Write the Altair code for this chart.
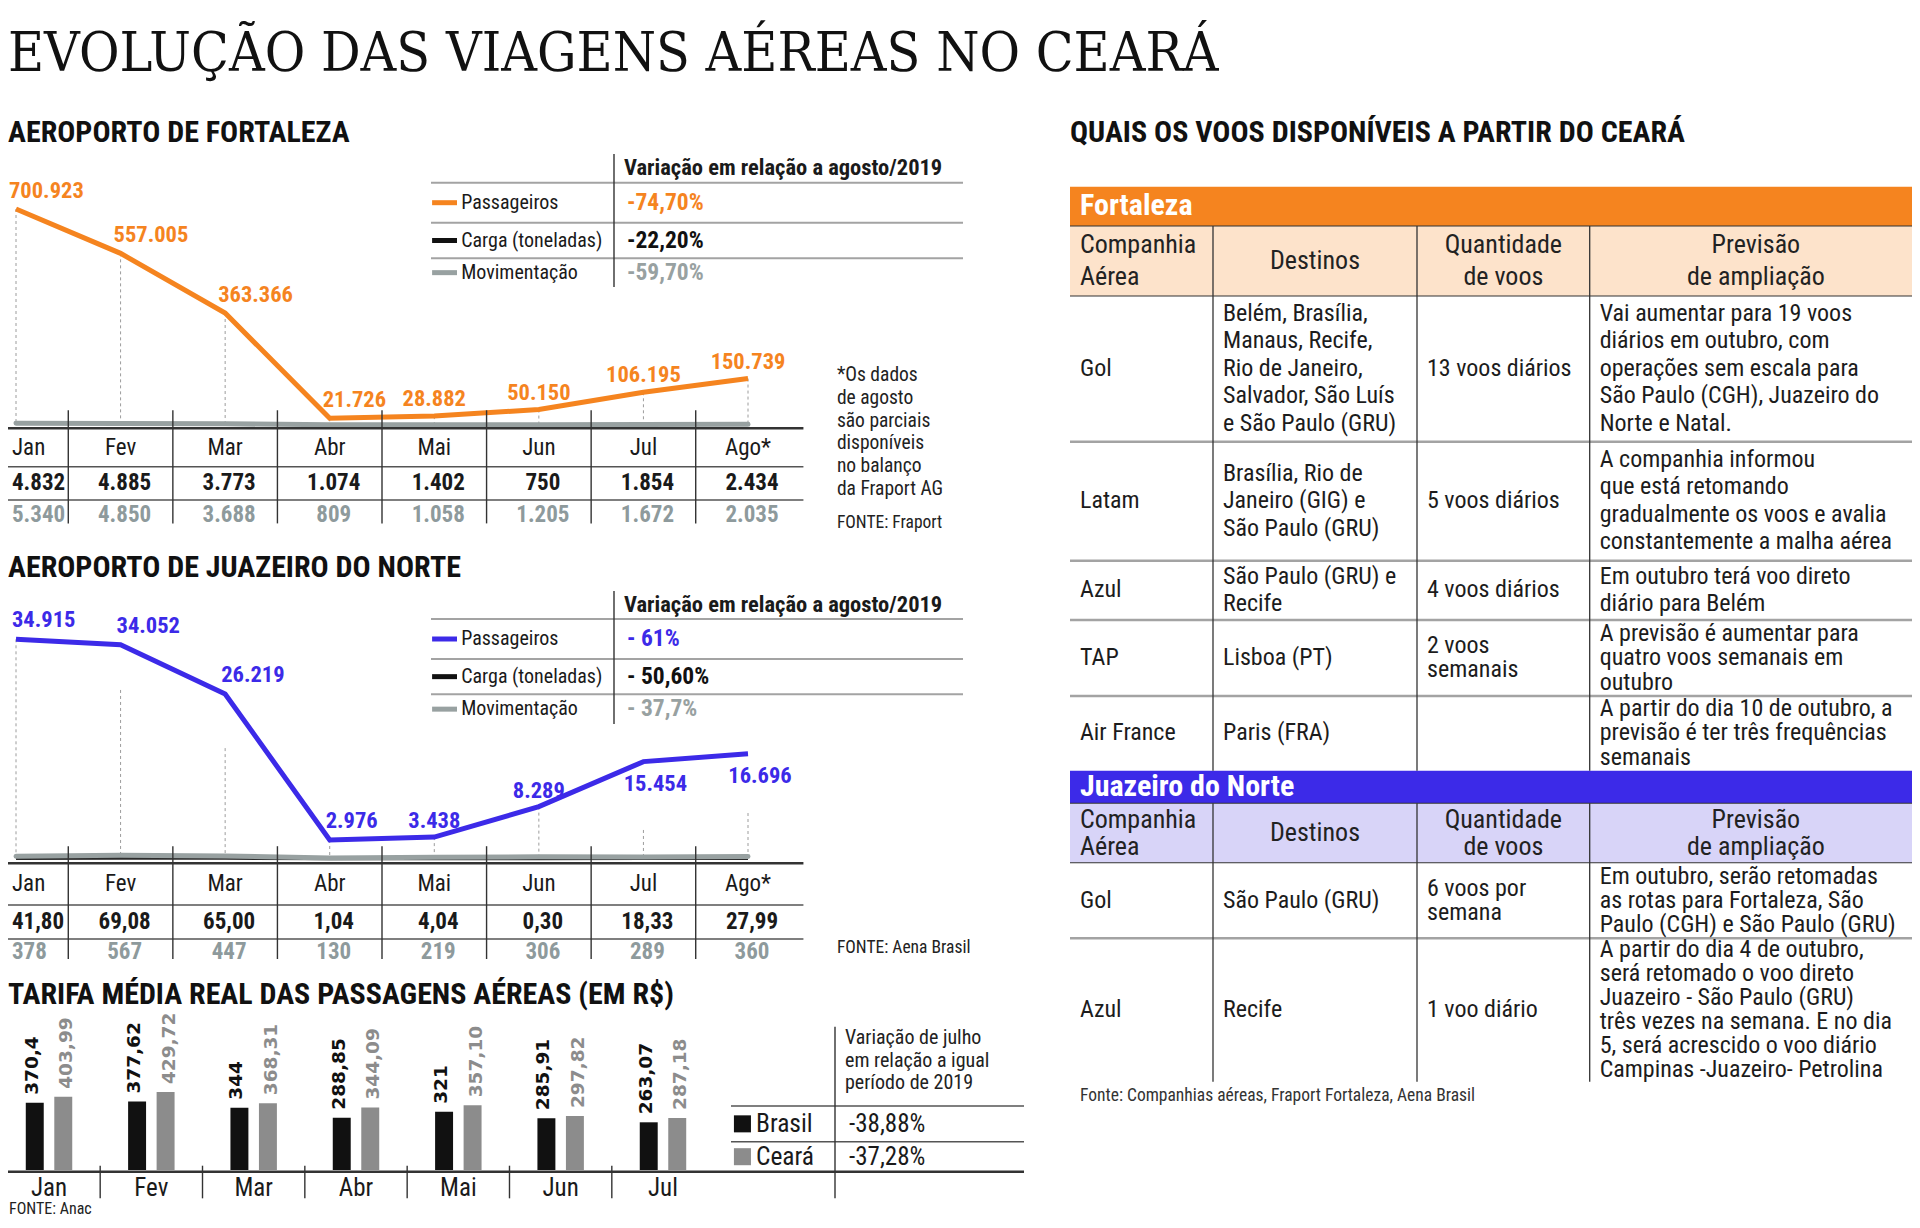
import altair as alt
import pandas as pd

# ------------------------------------------------------------------ data
months = ["Jan", "Fev", "Mar", "Abr", "Mai", "Jun", "Jul", "Ago*"]
series_names = ["Passageiros", "Carga (toneladas)", "Movimentação"]

fortaleza_passageiros = [700923, 557005, 363366, 21726, 28882, 50150, 106195, 150739]
fortaleza_carga = [4832, 4885, 3773, 1074, 1402, 750, 1854, 2434]
fortaleza_movimentacao = [5340, 4850, 3688, 809, 1058, 1205, 1672, 2035]
fortaleza_variacao = ["-74,70%", "-22,20%", "-59,70%"]

juazeiro_passageiros = [34915, 34052, 26219, 2976, 3438, 8289, 15454, 16696]
juazeiro_carga = [41.80, 69.08, 65.00, 1.04, 4.04, 0.30, 18.33, 27.99]
juazeiro_movimentacao = [378, 567, 447, 130, 219, 306, 289, 360]
juazeiro_variacao = ["- 61%", "- 50,60%", "- 37,7%"]

tarifa_meses = ["Jan", "Fev", "Mar", "Abr", "Mai", "Jun", "Jul"]
tarifa_series = ["Brasil", "Ceará"]
tarifa_brasil = [370.4, 377.62, 344, 288.85, 321, 285.91, 263.07]
tarifa_ceara = [403.99, 429.72, 368.31, 344.09, 357.10, 297.82, 287.18]
tarifa_variacao = ["-38,88%", "-37,28%"]
tarifa_legenda_titulo = "Variação de julho|em relação a igual|período de 2019"

titulo = "EVOLUÇÃO DAS VIAGENS AÉREAS NO CEARÁ"
cabecalhos = ["AEROPORTO DE FORTALEZA", "QUAIS OS VOOS DISPONÍVEIS A PARTIR DO CEARÁ",
              "AEROPORTO DE JUAZEIRO DO NORTE", "TARIFA MÉDIA REAL DAS PASSAGENS AÉREAS (EM R$)"]
legenda_titulo = "Variação em relação a agosto/2019"
nota_fortaleza = "*Os dados|de agosto|são parciais|disponíveis|no balanço|da Fraport AG"
fonte_fortaleza = "FONTE: Fraport"
fonte_juazeiro = "FONTE: Aena Brasil"
fonte_tarifa = "FONTE: Anac"
fonte_tabela = "Fonte: Companhias aéreas, Fraport Fortaleza, Aena Brasil"

tabela_colunas = ["Companhia|Aérea", "Destinos", "Quantidade|de voos", "Previsão|de ampliação"]
for_companhia = ["Gol", "Latam", "Azul", "TAP", "Air France"]
for_destinos = ["Belém, Brasília,|Manaus, Recife,|Rio de Janeiro,|Salvador, São Luís|e São Paulo (GRU)",
                "Brasília, Rio de|Janeiro (GIG) e|São Paulo (GRU)",
                "São Paulo (GRU) e|Recife",
                "Lisboa (PT)",
                "Paris (FRA)"]
for_quantidade = ["13 voos diários", "5 voos diários", "4 voos diários", "2 voos|semanais", ""]
for_previsao = ["Vai aumentar para 19 voos|diários em outubro, com|operações sem escala para|São Paulo (CGH), Juazeiro do|Norte e Natal.",
                "A companhia informou|que está retomando|gradualmente os voos e avalia|constantemente a malha aérea",
                "Em outubro terá voo direto|diário para Belém",
                "A previsão é aumentar para|quatro voos semanais em|outubro",
                "A partir do dia 10 de outubro, a|previsão é ter três frequências|semanais"]
jua_companhia = ["Gol", "Azul"]
jua_destinos = ["São Paulo (GRU)", "Recife"]
jua_quantidade = ["6 voos por|semana", "1 voo diário"]
jua_previsao = ["Em outubro, serão retomadas|as rotas para Fortaleza, São|Paulo (CGH) e São Paulo (GRU)",
                "A partir do dia 4 de outubro,|será retomado o voo direto|Juazeiro - São Paulo (GRU)|três vezes na semana. E no dia|5, será acrescido o voo diário|Campinas -Juazeiro- Petrolina"]
secoes = ["Fortaleza", "Juazeiro do Norte"]

# ------------------------------------------------------------------ layout / style
W, H = 1904, 1212
OX, OY = 6, 8


def px(v):
    return v - OX


def py(v):
    return v - OY


def inv(edges, v):
    """Domain position (piecewise-linear, index domain) of a pixel position."""
    k = 0
    while k < len(edges) - 2 and v > edges[k + 1]:
        k += 1
    return k + (v - edges[k]) / (edges[k + 1] - edges[k])


def nlines(t):
    return t.count("|") + 1


FONT = "Liberation Sans Narrow, Roboto Condensed, DejaVu Sans Condensed, Arial Narrow, sans-serif"
SERIF = "DejaVu Serif Condensed, Liberation Serif, serif"
WIDE = "DejaVu Sans, sans-serif"

DARK = "#1a1a1a"
ORANGE = "#F5841F"
BLUE = "#3C2AE8"
PEACH = "#FDE3CB"
LAVENDER = "#D8D4F8"
GREY_TXT = "#8E9A9C"
GREY_LINE = "#98A1A1"
RULE_DARK = "#333333"
RULE_GREY = "#A3A3A3"


def sc(domain, rng, **kw):
    return alt.Scale(domain=domain, range=rng, nice=False, zero=False, **kw)


def qx(f, s):
    return alt.X(f"{f}:Q", scale=s, axis=None)


def qy(f, s):
    return alt.Y(f"{f}:Q", scale=s, axis=None)


def text_layer(df, xf, yf, xs, ys, tf, size, color=DARK, weight="normal", align="left",
               baseline="middle", dx=0, dy=0, font=FONT, lh=None, fmt=None, filt=None):
    props = dict(align=align, baseline=baseline, dx=dx, dy=dy, font=font,
                 fontSize=size, fontWeight=weight, color=color)
    if lh is not None:
        props["lineHeight"] = lh
        props["lineBreak"] = "|"
    ch = alt.Chart(df)
    if filt is not None:
        ch = ch.transform_filter(filt)
    text = alt.Text(f"{tf}:Q", format=fmt) if fmt else alt.Text(f"{tf}:N")
    return ch.mark_text(**props).encode(x=qx(xf, xs), y=qy(yf, ys), text=text)


def rule_layer(df, xs, ys, color, width, dash=None):
    props = dict(color=color, strokeWidth=width, strokeCap="butt")
    if dash:
        props["strokeDash"] = dash
    return alt.Chart(df).mark_rule(**props).encode(
        x=qx("x", xs), x2=alt.X2("x2:Q"), y=qy("y", ys), y2=alt.Y2("y2:Q"))


def hlines(x0, x1, ys_list):
    return pd.DataFrame({"x": [x0] * len(ys_list), "x2": [x1] * len(ys_list),
                         "y": ys_list, "y2": ys_list})


def vlines(xs_list, y0, y1):
    return pd.DataFrame({"x": xs_list, "x2": xs_list,
                         "y": [y0] * len(xs_list), "y2": [y1] * len(xs_list)})


layers = []

# ------------------------------------------------------------------ titles
HX = sc([0, 1], [px(6), px(1068)])
HY = sc([0, 1, 2, 3], [py(71), py(132.7), py(568.3), py(995)])
tdf = pd.DataFrame({"t": [titulo], "c": [0], "r": [0]})
layers.append(text_layer(tdf, "c", "r", HX, HY, "t", 55, font=SERIF, baseline="alphabetic", color="#111"))
hdf = pd.DataFrame({"t": cabecalhos, "c": [0, 1, 0, 0], "r": [1, 1, 2, 3]})
layers.append(text_layer(hdf, "c", "r", HX, HY, "t", 30, weight="bold", color="#111"))

# ------------------------------------------------------------------ line sections
XS = sc([0, len(months) - 1], [px(14), px(746)])


def legend_block(edges, colors, values):
    XL = sc([0, 1, 2], [px(429), px(612), px(961)])
    YL = sc([0, 1, 2, 3, 4], [py(v) for v in edges])
    out = [rule_layer(hlines(0, 2, [1, 2, 3]), XL, YL, RULE_GREY, 2),
           rule_layer(vlines([1], 0, 4), XL, YL, RULE_DARK, 1.4)]
    hd = pd.DataFrame({"t": [legenda_titulo], "x": [1], "y": [0.5]})
    out.append(text_layer(hd, "x", "y", XL, YL, "t", 22.5, weight="bold", dx=10))
    rows = pd.DataFrame({"s": series_names, "v": values})
    rows["r"] = [k + 1.5 for k in range(len(series_names))]
    rows["sx"] = 0.006
    rows["sx2"] = 0.142
    rows["tx"] = 0.165
    rows["vx"] = 1
    cs = alt.Scale(domain=series_names, range=colors)
    out.append(alt.Chart(rows).mark_rule(strokeWidth=5, strokeCap="butt").encode(
        x=qx("sx", XL), x2=alt.X2("sx2:Q"), y=qy("r", YL),
        color=alt.Color("s:N", scale=cs, legend=None)))
    out.append(text_layer(rows, "tx", "r", XL, YL, "s", 20))
    out.append(alt.Chart(rows).mark_text(align="left", baseline="middle", dx=13, font=FONT,
                                         fontSize=23.5, fontWeight="bold").encode(
        x=qx("vx", XL), y=qy("r", YL), text=alt.Text("v:N"),
        color=alt.Color("s:N", scale=cs, legend=None)))
    return out


def line_section(pas, carga, mov, var_txt, color, y_px, y_max, lbl_left, lbl_up, lbl_down,
                 left_dx, left_dy, up_dy, drop_top, tab_edges, sep_span, leg_edges,
                 carga_fmt, mov_fmt, notes):
    out = []
    df = pd.DataFrame({"i": list(range(len(months))), "m": months,
                       "pas": pas, "carga": carga, "mov": mov})
    df["top"] = [drop_top.get(m, v) for m, v in zip(months, pas)]
    df["zero"] = 0
    YS = sc([0, y_max], [py(y_px[0]), py(y_px[1])])
    out.append(alt.Chart(df).mark_rule(color="#9c9c9c", strokeWidth=1, strokeDash=[3, 3]).encode(
        x=qx("i", XS), y=qy("top", YS), y2=alt.Y2("zero:Q")))
    out.append(alt.Chart(df).mark_line(color="#2a2a2a", strokeWidth=3).encode(
        x=qx("i", XS), y=qy("carga", YS)))
    out.append(alt.Chart(df).mark_line(color=GREY_LINE, strokeWidth=5, strokeCap="round").encode(
        x=qx("i", XS), y=qy("mov", YS)))
    out.append(alt.Chart(df).mark_line(color=color, strokeWidth=5).encode(
        x=qx("i", XS), y=qy("pas", YS)))
    out.append(text_layer(df, "i", "pas", XS, YS, "pas", 22.5, color=color, weight="bold",
                          align="left", dx=left_dx, dy=left_dy, fmt=",d",
                          filt=alt.FieldOneOfPredicate(field="m", oneOf=lbl_left)))
    out.append(text_layer(df, "i", "pas", XS, YS, "pas", 22.5, color=color, weight="bold",
                          align="center", dy=up_dy, fmt=",d",
                          filt=alt.FieldOneOfPredicate(field="m", oneOf=lbl_up)))
    if lbl_down:
        out.append(text_layer(df, "i", "pas", XS, YS, "pas", 22.5, color=color, weight="bold",
                              align="center", dx=12, dy=22, fmt=",d",
                              filt=alt.FieldOneOfPredicate(field="m", oneOf=lbl_down)))
    # table under the chart
    TY = sc([0, 1, 2, 3], [py(v) for v in tab_edges])
    last = len(months) - 1
    out.append(rule_layer(hlines(-0.3, last + 0.53, [0]), XS, TY, RULE_DARK, 2.6))
    out.append(rule_layer(hlines(-0.3, last + 0.53, [1, 2]), XS, TY, "#555555", 1.6))
    out.append(rule_layer(vlines([i + 0.5 for i in range(last)], sep_span[0], sep_span[1]),
                          XS, TY, RULE_DARK, 1.4))
    df["r_m"] = 0.5
    df["r_c"] = 1.5
    df["r_v"] = 2.5
    first = "datum.i == 0"
    rest = "datum.i > 0"
    out.append(text_layer(df, "i", "r_m", XS, TY, "m", 23, align="left", dx=-4, filt=first))
    out.append(text_layer(df, "i", "r_m", XS, TY, "m", 23, align="center", filt=rest))
    out.append(text_layer(df, "i", "r_c", XS, TY, "carga", 23, weight="bold", align="left",
                          dx=-4, fmt=carga_fmt, filt=first))
    out.append(text_layer(df, "i", "r_c", XS, TY, "carga", 23, weight="bold", align="center",
                          dx=4, fmt=carga_fmt, filt=rest))
    out.append(text_layer(df, "i", "r_v", XS, TY, "mov", 23, weight="bold", align="left",
                          dx=-4, fmt=mov_fmt, color=GREY_TXT, filt=first))
    out.append(text_layer(df, "i", "r_v", XS, TY, "mov", 23, weight="bold", align="center",
                          dx=4, fmt=mov_fmt, color=GREY_TXT, filt=rest))
    for txt, nx, first_line_px, lh, size in notes:
        nd = pd.DataFrame({"t": [txt], "x": [nx], "y": [inv(tab_edges, first_line_px)]})
        out.append(text_layer(nd, "x", "y", XS, TY, "t", size, lh=lh, color="#222"))
    out += legend_block(leg_edges, [color, "#111111", GREY_LINE], var_txt)
    return out


layers += line_section(
    fortaleza_passageiros, fortaleza_carga, fortaleza_movimentacao, fortaleza_variacao, ORANGE,
    (425, 209), 700923, ["Jan", "Fev", "Mar", "Abr"], ["Mai", "Jun", "Jul", "Ago*"], [],
    -7, -18, -17, {}, [428.3, 466.7, 500, 530], (-0.47, 2.78),
    [154, 182.7, 222.7, 258.3, 287], ",d", ",d",
    [(nota_fortaleza, 7.85, 375, 22.8, 19.5), (fonte_fortaleza, 7.85, 523.3, None, 17.5)])

layers += line_section(
    juazeiro_passageiros, juazeiro_carga, juazeiro_movimentacao, juazeiro_variacao, BLUE,
    (858.7, 639.3), 34915, ["Jan", "Fev", "Mar", "Abr"], ["Mai", "Jun"], ["Jul", "Ago*"],
    -4, -19, -16, {"Fev": 26850, "Mar": 17600, "Jul": 4570, "Ago*": 7270},
    [863.3, 905, 939, 964], (-0.41, 2.8),
    [591, 619, 659, 694.3, 724], ".2f", "d",
    [(fonte_juazeiro, 7.85, 948.3, None, 17.5)])

# ------------------------------------------------------------------ tarifa bars
XB = alt.Scale(type="band", domain=tarifa_meses, range=[px(-4.15), px(712.15)],
               paddingInner=0, paddingOuter=0)
XQ = sc([-0.5, len(tarifa_meses) - 0.5], [px(-4.15), px(712.15)])
XO = alt.Scale(domain=tarifa_series, paddingInner=0.37, paddingOuter=0.98)
YB = sc([0, 500], [py(1170), py(1079.35)])
YT_EDGES = [1015, 1106, 1141.7, 1171.7, 1205]
YT = sc(list(range(len(YT_EDGES))), [py(v) for v in YT_EDGES])
XF = sc([0, 1, 2, 3], [px(0), px(729), px(833), px(1022)])
bar_colors = alt.Scale(domain=tarifa_series, range=["#111111", "#8C8C8C"])

tb = pd.DataFrame({"m": tarifa_meses * 2,
                   "s": [tarifa_series[0]] * len(tarifa_meses) + [tarifa_series[1]] * len(tarifa_meses),
                   "v": tarifa_brasil + tarifa_ceara})
xenc = alt.X("m:N", scale=XB, axis=None)
xoff = alt.XOffset("s:N", scale=XO)
layers.append(alt.Chart(tb).mark_bar().encode(
    x=xenc, xOffset=xoff, y=qy("v", YB), color=alt.Color("s:N", scale=bar_colors, legend=None)))
for serie, fmt, col in [("Brasil", ",.2~f", "#111111"), ("Ceará", ",.2f", "#8C8C8C")]:
    layers.append(alt.Chart(tb).transform_filter(alt.datum.s == serie).mark_text(
        angle=270, align="left", baseline="middle", dx=8, font=WIDE, fontSize=18.5,
        fontWeight="bold", color=col).encode(
        x=xenc, xOffset=xoff, y=qy("v", YB), text=alt.Text("v:Q", format=fmt)))

layers.append(rule_layer(hlines(0, 3, [3]), XF, YT, RULE_DARK, 2.4))
layers.append(rule_layer(hlines(1, 3, [1, 2]), XF, YT, "#555555", 1.6))
layers.append(rule_layer(vlines([2], 0.13, 3.8), XF, YT, RULE_DARK, 1.4))
layers.append(rule_layer(vlines([i + 0.5 for i in range(len(tarifa_meses) - 1)], 2.8, 3.8),
                         XQ, YT, RULE_DARK, 1.4))
tm = pd.DataFrame({"m": tarifa_meses, "r": 3.5})
layers.append(alt.Chart(tm).mark_text(align="center", baseline="middle", font=FONT, fontSize=25,
                                      color=DARK).encode(x=alt.X("m:N", scale=XB, axis=None),
                                                         y=qy("r", YT), text="m:N"))
tl = pd.DataFrame({"s": tarifa_series, "v": tarifa_variacao})
tl["r"] = [k + 1.5 for k in range(len(tarifa_series))]
tl["sx"] = 1.11
tl["tx"] = 1.24
tl["vx"] = 2
layers.append(alt.Chart(tl).mark_square(size=290, opacity=1).encode(
    x=qx("sx", XF), y=qy("r", YT), color=alt.Color("s:N", scale=bar_colors, legend=None)))
layers.append(text_layer(tl, "tx", "r", XF, YT, "s", 25.5))
layers.append(text_layer(tl, "vx", "r", XF, YT, "v", 25, dx=14))
tlh = pd.DataFrame({"t": [tarifa_legenda_titulo], "x": [2], "y": [inv(YT_EDGES, 1038.3)]})
layers.append(text_layer(tlh, "x", "y", XF, YT, "t", 20, lh=22.5, dx=10, color="#222"))
tfa = pd.DataFrame({"t": [fonte_tarifa], "x": [0], "y": [inv(YT_EDGES, 1209)]})
layers.append(text_layer(tfa, "x", "y", XF, YT, "t", 16, dx=7, color="#222"))

# ------------------------------------------------------------------ flights table
XT = sc([0, 1, 2, 3, 4], [px(1068), px(1211), px(1415), px(1587.7), px(1920)])
row_edges = [186.7, 226, 296, 441.7, 560.7, 620, 696, 770.7, 803.3, 862.7, 938.3, 1081.7]
YTB = sc(list(range(len(row_edges))), [py(v) for v in row_edges])
FOR_BAR, JUA_BAR = 0, 7


def cell_y(r, t, lh):
    """Index-domain anchor so that a multi-line block is centred in row r."""
    rowh = row_edges[r + 1] - row_edges[r]
    return r + 0.5 - (nlines(t) - 1) * lh / 2 / rowh


fills = pd.DataFrame({"k": ["orange", "peach", "blue", "lavender"],
                      "x": 0, "x2": 4,
                      "y": [FOR_BAR, FOR_BAR + 1, JUA_BAR, JUA_BAR + 1]})
fills["y2"] = fills["y"] + 1
layers.append(alt.Chart(fills).mark_rect().encode(
    x=qx("x", XT), x2=alt.X2("x2:Q"), y=qy("y", YTB), y2=alt.Y2("y2:Q"),
    color=alt.Color("k:N", scale=alt.Scale(domain=["orange", "peach", "blue", "lavender"],
                                           range=[ORANGE, PEACH, BLUE, LAVENDER]), legend=None)))

for_body = FOR_BAR + 2
jua_body = JUA_BAR + 2
grey_rows = [for_body + k for k in range(1, len(for_companhia))] + \
            [jua_body + k for k in range(1, len(jua_companhia))]
layers.append(rule_layer(hlines(0, 4, grey_rows), XT, YTB, RULE_GREY, 2.4))
layers.append(rule_layer(hlines(0, 4, [FOR_BAR + 1, FOR_BAR + 2, JUA_BAR + 1, JUA_BAR + 2]),
                         XT, YTB, RULE_DARK, 1.1))
layers.append(rule_layer(vlines([1, 2, 3], FOR_BAR + 1, JUA_BAR), XT, YTB, RULE_DARK, 1.3))
layers.append(rule_layer(vlines([1, 2, 3], JUA_BAR + 1, jua_body + len(jua_companhia)),
                         XT, YTB, RULE_DARK, 1.3))

sec = pd.DataFrame({"t": secoes, "x": 0, "y": [FOR_BAR + 0.5, JUA_BAR + 0.5]})
layers.append(text_layer(sec, "x", "y", XT, YTB, "t", 30, color="white", weight="bold", dx=10))

HEAD_LH = {"F": 31.6, "J": 27}
hd_rows = []
for s_, r in [("F", FOR_BAR + 1), ("J", JUA_BAR + 1)]:
    for c, t in enumerate(tabela_colunas):
        hd_rows.append({"t": t, "c": c, "xc": c + 0.5, "sec": s_, "y": cell_y(r, t, HEAD_LH[s_])})
hd = pd.DataFrame(hd_rows)
for s_, lh in HEAD_LH.items():
    layers.append(text_layer(hd, "c", "y", XT, YTB, "t", 26, lh=lh, dx=10, color="#222",
                             filt=f"datum.sec == '{s_}' && datum.c == 0"))
    layers.append(text_layer(hd, "xc", "y", XT, YTB, "t", 26, lh=lh, align="center", color="#222",
                             filt=f"datum.sec == '{s_}' && datum.c > 0"))

BODY_LH = {"F1": 27.5, "F2": 24.5, "J": 24}
cells = []
for k, row in enumerate(zip(for_companhia, for_destinos, for_quantidade, for_previsao)):
    g = "F1" if k < 3 else "F2"
    for c, t in enumerate(row):
        cells.append({"t": t, "c": c, "g": g, "y": cell_y(for_body + k, t, BODY_LH[g])})
for k, row in enumerate(zip(jua_companhia, jua_destinos, jua_quantidade, jua_previsao)):
    for c, t in enumerate(row):
        cells.append({"t": t, "c": c, "g": "J", "y": cell_y(jua_body + k, t, BODY_LH["J"])})
cells = pd.DataFrame(cells)
for g, lh in BODY_LH.items():
    layers.append(text_layer(cells, "c", "y", XT, YTB, "t", 24, lh=lh, dx=10, color="#1c1c1c",
                             filt=f"datum.g == '{g}'"))
fd = pd.DataFrame({"t": [fonte_tabela], "x": [0], "y": [inv(row_edges, 1095.7)]})
layers.append(text_layer(fd, "x", "y", XT, YTB, "t", 17.5, dx=10, color="#333"))

# ------------------------------------------------------------------ assemble
chart = alt.layer(*layers).resolve_scale(
    x="independent", y="independent", color="independent", xOffset="independent"
).properties(
    width=W, height=H, padding=0, background="white",
    autosize=alt.AutoSizeParams(type="none"),
).configure(
    locale={"number": {"decimal": ",", "thousands": ".", "grouping": [3], "currency": ["R$", ""]}}
).configure_view(stroke=None)

chart.save("out.html", embed_options={"renderer": "svg", "actions": False})
